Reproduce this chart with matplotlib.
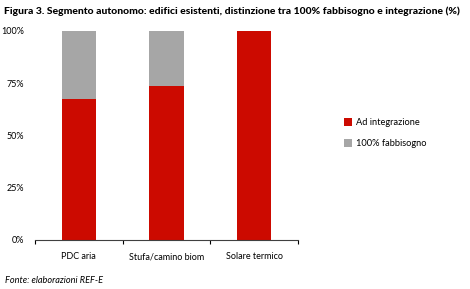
import matplotlib
matplotlib.use("Agg")
import matplotlib.pyplot as plt
import numpy as np
from matplotlib.ticker import FixedLocator, PercentFormatter

plt.rcParams["font.family"] = ["Lato", "DejaVu Sans"]

categories = ["PDC aria", "Stufa/camino biom", "Solare termico"]
integrazione = [67.5, 73.7, 100.0]
fabbisogno = [32.5, 26.3, 0.0]

red = "#CC0A00"
grey = "#A6A6A6"

fig = plt.figure(figsize=(4.70, 2.89), dpi=100)
ax = fig.add_axes([0.0745, 0.170, 0.5595, 0.723])

x = np.arange(len(categories))
ax.bar(x, integrazione, width=0.39, color=red, label="Ad integrazione")
ax.bar(x, fabbisogno, width=0.39, bottom=integrazione, color=grey, label="100% fabbisogno")

ax.set_xlim(-0.5, 2.5)
ax.set_ylim(0, 100)
ax.set_yticks([0, 25, 50, 75, 100])
ax.yaxis.set_major_formatter(PercentFormatter(decimals=0))
ax.set_xticks(x)
ax.set_xticklabels(categories)
ax.xaxis.set_minor_locator(FixedLocator([-0.5, 0.5, 1.5, 2.5]))
ax.tick_params(axis="x", which="major", length=0, pad=9, labelsize=6.5, colors="black")
ax.tick_params(axis="x", which="minor", length=3, width=0.8, direction="out")
ax.tick_params(axis="y", length=0, pad=8, labelsize=6.5)

for s in ["top", "right", "left"]:
    ax.spines[s].set_visible(False)
ax.spines["bottom"].set_color("#404040")
ax.spines["bottom"].set_linewidth(0.8)

fig.legend(loc="upper left", bbox_to_anchor=(0.715, 0.62), frameon=False,
           fontsize=6.7, handlelength=0.8, handleheight=0.8, handletextpad=0.4,
           labelspacing=1.3)

fig.text(0.008, 0.962, "Figura 3. Segmento autonomo: edifici esistenti, distinzione tra 100% fabbisogno e integrazione (%)",
         fontsize=7.5, fontweight="black", va="center", ha="left")
fig.text(0.010, 0.03, "Fonte: elaborazioni REF-E", fontsize=6.6, style="italic", va="center", ha="left")

fig.savefig("out.png", dpi=100)
